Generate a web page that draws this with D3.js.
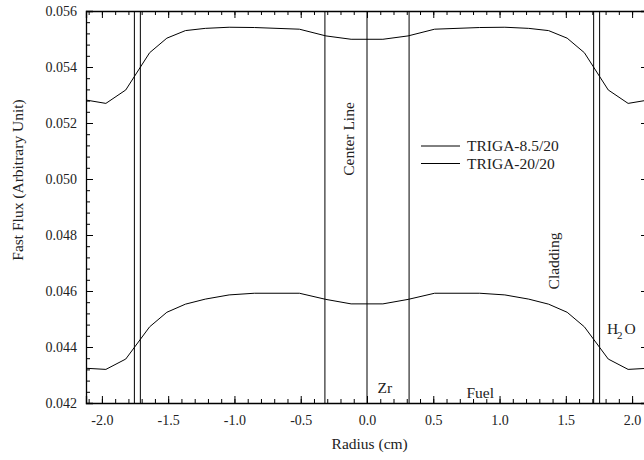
<!DOCTYPE html>
<html>
<head>
<meta charset="utf-8">
<script src="https://cdn.jsdelivr.net/npm/d3@7"></script>
<style>
  body { margin: 0; background: #fff; }
  svg, svg text { font-family: "Liberation Serif", "Times New Roman", serif; }
</style>
</head>
<body>
<div id="chart"></div>
<script>
// radius points (cm) and fast flux values
const radius = [-2.12, -1.97, -1.82, -1.64, -1.51, -1.37, -1.22, -1.04, -0.85, -0.51, -0.31, -0.12,
                0.12, 0.31, 0.51, 0.85, 1.04, 1.22, 1.37, 1.51, 1.64, 1.82, 1.97, 2.12];
const flux85 = [0.05282, 0.05270, 0.05318, 0.05451, 0.05503, 0.05530, 0.05538, 0.05542, 0.05541, 0.05535, 0.05511, 0.05499,
                0.05499, 0.05511, 0.05535, 0.05541, 0.05542, 0.05538, 0.05530, 0.05503, 0.05451, 0.05318, 0.05270, 0.05282];
const flux20 = [0.04324, 0.04320, 0.04357, 0.04472, 0.04524, 0.04553, 0.04571, 0.04586, 0.04592, 0.04592, 0.04570, 0.04554,
                0.04554, 0.04570, 0.04592, 0.04592, 0.04586, 0.04571, 0.04553, 0.04524, 0.04472, 0.04357, 0.04320, 0.04324];
const seriesNames = ["TRIGA-8.5/20", "TRIGA-20/20"];
// region boundaries: Zr rod, center line, fuel / cladding edges
const boundaries = [-1.755, -1.71, -0.3175, 0, 0.3175, 1.71, 1.755];
const xTicks = [-2.0, -1.5, -1.0, -0.5, 0.0, 0.5, 1.0, 1.5, 2.0];
const yTicks = [0.042, 0.044, 0.046, 0.048, 0.050, 0.052, 0.054, 0.056];

const width = 644, height = 460;
const margin = { top: 11, right: -4, bottom: 57, left: 86 };
const font = "Liberation Serif, Times New Roman, serif";

const x = d3.scaleLinear()
    .domain([-2.12, 2.12])
    .range([margin.left, width - margin.right]);

const y = d3.scaleLinear()
    .domain([0.042, 0.056])
    .range([height - margin.bottom, margin.top]);

const svg = d3.select("#chart").append("svg")
    .attr("width", width)
    .attr("height", height);

svg.append("clipPath").attr("id", "clip")
  .append("rect")
    .attr("x", x.range()[0]).attr("y", y.range()[1])
    .attr("width", x.range()[1] - x.range()[0])
    .attr("height", y.range()[0] - y.range()[1]);

const xMinor = d3.range(-21, 22).map(d => d / 10);
const yMinor = d3.range(105, 141).map(d => d * 0.0004);

function styleAxis(g) {
    g.attr("font-family", font).attr("font-size", 14);
    g.select(".domain").attr("stroke", "#000").attr("stroke-width", 1.3);
    g.selectAll(".tick line").attr("stroke", "#000");
    g.selectAll(".tick text").attr("fill", "#222");
}

// bottom
svg.append("g")
    .attr("transform", `translate(0,${y.range()[0]})`)
    .call(d3.axisBottom(x).tickValues(xMinor).tickSize(-4).tickFormat(""))
    .call(g => g.select(".domain").remove())
    .call(styleAxis);
svg.append("g")
    .attr("transform", `translate(0,${y.range()[0]})`)
    .call(d3.axisBottom(x).tickValues(xTicks).tickSize(-7).tickPadding(12)
        .tickFormat(d => d3.format(".1f")(d).replace("−", "-")))
    .call(styleAxis);
// top
svg.append("g")
    .attr("transform", `translate(0,${y.range()[1]})`)
    .call(d3.axisTop(x).tickValues(xMinor).tickSize(-4).tickFormat(""))
    .call(g => g.select(".domain").remove())
    .call(styleAxis);
svg.append("g")
    .attr("transform", `translate(0,${y.range()[1]})`)
    .call(d3.axisTop(x).tickValues(xTicks).tickSize(-7).tickFormat(""))
    .call(styleAxis);
// left
svg.append("g")
    .attr("transform", `translate(${x.range()[0]},0)`)
    .call(d3.axisLeft(y).tickValues(yMinor).tickSize(-4).tickFormat(""))
    .call(g => g.select(".domain").remove())
    .call(styleAxis);
svg.append("g")
    .attr("transform", `translate(${x.range()[0]},0)`)
    .call(d3.axisLeft(y).tickValues(yTicks).tickSize(-7).tickPadding(9).tickFormat(d3.format(".3f")))
    .call(styleAxis);
// right
svg.append("g")
    .attr("transform", `translate(${x.range()[1]},0)`)
    .call(d3.axisRight(y).tickValues(yMinor).tickSize(-4).tickFormat(""))
    .call(g => g.select(".domain").remove())
    .call(styleAxis);
svg.append("g")
    .attr("transform", `translate(${x.range()[1]},0)`)
    .call(d3.axisRight(y).tickValues(yTicks).tickSize(-7).tickFormat(""))
    .call(styleAxis);

const plot = svg.append("g").attr("clip-path", "url(#clip)");

plot.selectAll("line.boundary")
  .data(boundaries)
  .join("line")
    .attr("class", "boundary")
    .attr("x1", d => x(d)).attr("x2", d => x(d))
    .attr("y1", y.range()[0]).attr("y2", y.range()[1])
    .attr("stroke", "#000")
    .attr("stroke-width", 1);

const line = d3.line()
    .x(d => x(d[0]))
    .y(d => y(d[1]));

[flux85, flux20].forEach(vals => {
    plot.append("path")
        .datum(radius.map((r, i) => [r, vals[i]]))
        .attr("fill", "none")
        .attr("stroke", "#000")
        .attr("stroke-width", 1)
        .attr("d", line);
});

const txt = (sel) => sel.attr("font-family", font).attr("font-size", 15.5).attr("fill", "#222");

// legend
const legend = svg.append("g").attr("transform", "translate(421,146)");
seriesNames.forEach((name, i) => {
    legend.append("line")
        .attr("x1", 0).attr("x2", 39)
        .attr("y1", i * 17.5).attr("y2", i * 17.5)
        .attr("stroke", "#000");
    legend.append("text")
        .attr("x", 46).attr("y", i * 17.5 + 5)
        .call(txt)
        .text(name);
});

// region labels
svg.append("text")
    .attr("transform", `translate(${x(-0.1)},139) rotate(-90)`)
    .attr("text-anchor", "middle")
    .call(txt)
    .text("Center Line");
svg.append("text")
    .attr("transform", `translate(${x(1.45)},261) rotate(-90)`)
    .attr("text-anchor", "middle")
    .call(txt)
    .text("Cladding");
svg.append("text")
    .attr("x", x(0.08)).attr("y", 393)
    .call(txt)
    .text("Zr");
svg.append("text")
    .attr("x", x(0.75)).attr("y", 398)
    .call(txt)
    .text("Fuel");
const h2o = svg.append("text")
    .attr("x", x(1.81)).attr("y", 334)
    .call(txt);
h2o.append("tspan").text("H");
h2o.append("tspan").attr("font-size", 11).attr("dy", 5).attr("dx", -1).text("2");
h2o.append("tspan").attr("dy", -5).attr("dx", 2).text("O");

// axis titles
svg.append("text")
    .attr("x", x(0.02)).attr("y", 449)
    .attr("text-anchor", "middle")
    .call(txt)
    .text("Radius (cm)");
svg.append("text")
    .attr("transform", `translate(23,180) rotate(-90)`)
    .attr("text-anchor", "middle")
    .call(txt)
    .text("Fast Flux (Arbitrary Unit)");
</script>
</body>
</html>
